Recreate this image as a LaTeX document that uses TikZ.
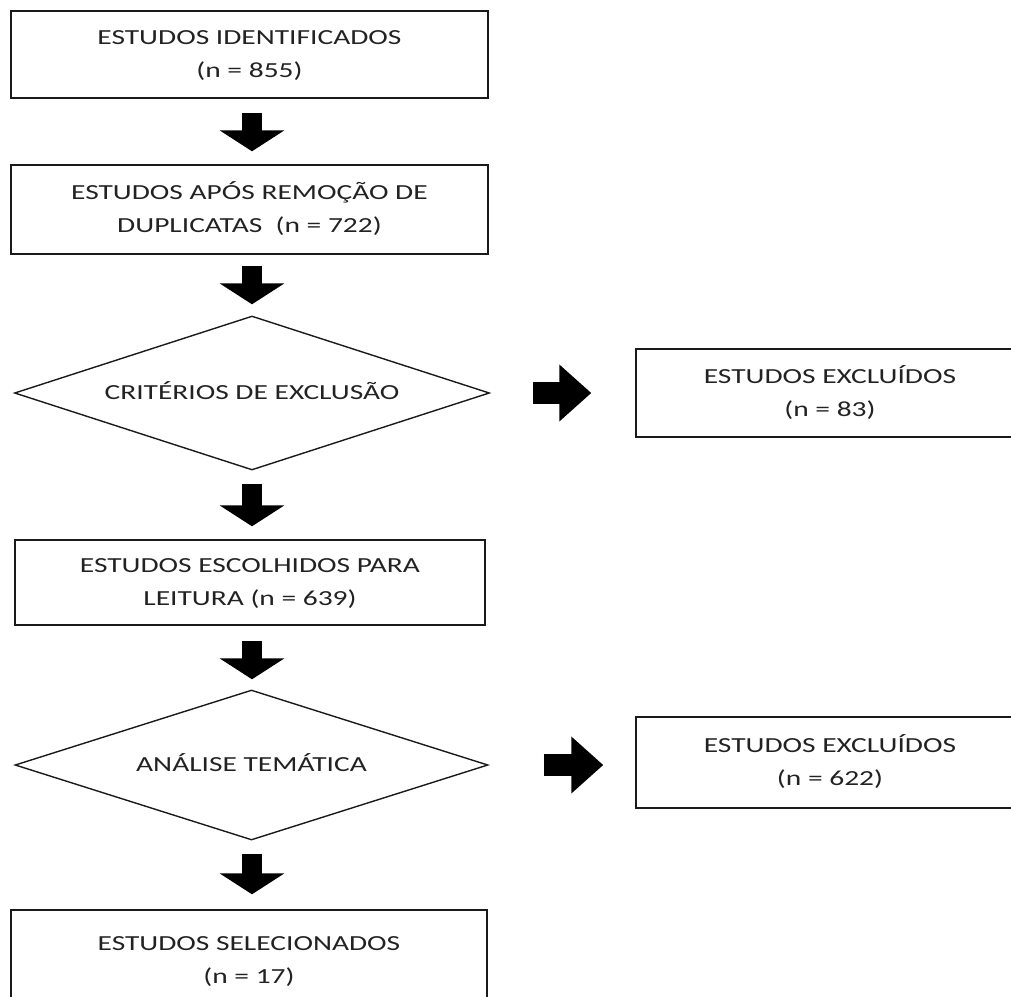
\documentclass[tikz,border=0pt]{standalone}
\usepackage{fontspec}
\usepackage{graphicx}
\setmainfont{Carlito}
\usetikzlibrary{shapes.geometric,arrows.meta}
\newcommand{\tx}[1]{\scalebox{1.37}[1]{\begin{tabular}{@{}c@{}}#1\end{tabular}}}
\definecolor{txtc}{HTML}{222222}
\definecolor{edgec}{HTML}{1A1A1A}
\tikzset{
  box/.style={draw=edgec, line width=1.4pt, rectangle, inner sep=0pt, text=txtc,
    node font=\fontsize{21.5}{33}\selectfont},
  dec/.style={draw=edgec, line width=1.4pt, diamond, aspect=3.1, inner sep=0pt, text=txtc,
    node font=\fontsize{21.5}{33}\selectfont},
  downarrow/.style={draw=black, line width=20pt,
    -{Triangle[width=64pt,length=21pt]}},
  rightarrow/.style={draw=black, line width=22pt,
    -{Triangle[width=55pt,length=32pt]}}
}
\begin{document}
\begin{tikzpicture}[x=1pt,y=-1pt]
\useasboundingbox (0,0) rectangle (1011,996);
\node[box, minimum width=477pt, minimum height=87pt] (b1) at (249.5,54.5)
  {\tx{ESTUDOS IDENTIFICADOS\\(n = 855)}};
\node[box, minimum width=477pt, minimum height=89pt] (b2) at (249.5,209.5)
  {\tx{ESTUDOS APÓS REMOÇÃO DE\\DUPLICATAS~~(n = 722)}};
\node[dec, minimum width=475pt, minimum height=154pt] (d1) at (252,393)
  {\tx{CRITÉRIOS DE EXCLUSÃO}};
\node[box, minimum width=388pt, minimum height=88pt] (e1) at (830,393)
  {\tx{ESTUDOS EXCLUÍDOS\\(n = 83)}};
\node[box, minimum width=470pt, minimum height=85pt] (b3) at (250,582.5)
  {\tx{ESTUDOS ESCOLHIDOS PARA\\LEITURA (n = 639)}};
\node[dec, minimum width=473pt, minimum height=150pt] (d2) at (251.5,765)
  {\tx{ANÁLISE TEMÁTICA}};
\node[box, minimum width=388pt, minimum height=91pt] (e2) at (830,762.5)
  {\tx{ESTUDOS EXCLUÍDOS\\(n = 622)}};
\node[box, minimum width=476pt, minimum height=100pt] (b4) at (249,960)
  {\tx{ESTUDOS SELECIONADOS\\(n = 17)}};
\draw[downarrow, shorten <=14pt, shorten >=13pt] (b1.south -| 252,0) -- (b2.north -| 252,0);
\draw[downarrow, shorten <=11pt, shorten >=11pt] (b2.south -| 252,0) -- (d1.north);
\draw[downarrow, shorten <=13pt, shorten >=13pt] (d1.south) -- (b3.north -| 252,0);
\draw[downarrow, shorten <=15pt, shorten >=10pt] (b3.south -| 252,0) -- (d2.north -| 252,0);
\draw[downarrow, shorten <=13pt, shorten >=15pt] (d2.south -| 252,0) -- (b4.north -| 252,0);
\draw[rightarrow, shorten <=43pt, shorten >=44pt] (d1.east) -- (d1.east -| e1.west);
\draw[rightarrow, shorten <=55pt, shorten >=32pt] (d2.east) -- (d2.east -| e2.west);
\end{tikzpicture}
\end{document}
